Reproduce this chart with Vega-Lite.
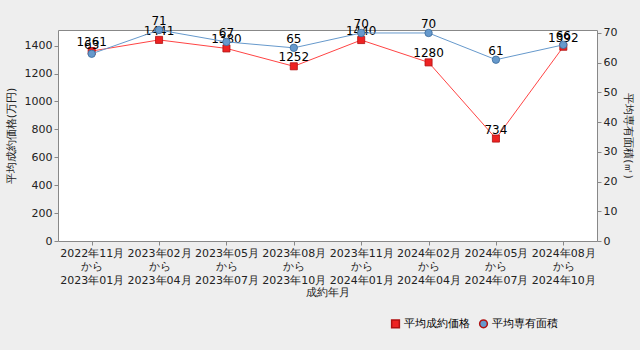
{
  "$schema": "https://vega.github.io/schema/vega-lite/v6.json",
  "autosize": "none",
  "width": 539,
  "height": 211,
  "padding": {"left": 58, "top": 30, "right": 43, "bottom": 109},
  "background": "#eeeeee",
  "config": {
    "font": "DejaVu Sans",
    "view": {"fill": "white", "stroke": "#888888", "strokeWidth": 1},
    "axis": {"labelFont": "DejaVu Sans", "titleFont": "DejaVu Sans", "labelFontSize": 11, "titleFontSize": 11, "labelColor": "#222", "titleColor": "#222", "titleFontWeight": "normal", "grid": false, "domain": false, "tickColor": "#888", "tickSize": 4}
  },
  "data": {"values": [
    {"period": "2022年11月 から 2023年01月", "series": "平均成約価格", "value": 1361},
    {"period": "2023年02月 から 2023年04月", "series": "平均成約価格", "value": 1441},
    {"period": "2023年05月 から 2023年07月", "series": "平均成約価格", "value": 1380},
    {"period": "2023年08月 から 2023年10月", "series": "平均成約価格", "value": 1252},
    {"period": "2023年11月 から 2024年01月", "series": "平均成約価格", "value": 1440},
    {"period": "2024年02月 から 2024年04月", "series": "平均成約価格", "value": 1280},
    {"period": "2024年05月 から 2024年07月", "series": "平均成約価格", "value": 734},
    {"period": "2024年08月 から 2024年10月", "series": "平均成約価格", "value": 1392},
    {"period": "2022年11月 から 2023年01月", "series": "平均専有面積", "value": 63},
    {"period": "2023年02月 から 2023年04月", "series": "平均専有面積", "value": 71},
    {"period": "2023年05月 から 2023年07月", "series": "平均専有面積", "value": 67},
    {"period": "2023年08月 から 2023年10月", "series": "平均専有面積", "value": 65},
    {"period": "2023年11月 から 2024年01月", "series": "平均専有面積", "value": 70},
    {"period": "2024年02月 から 2024年04月", "series": "平均専有面積", "value": 70},
    {"period": "2024年05月 から 2024年07月", "series": "平均専有面積", "value": 61},
    {"period": "2024年08月 から 2024年10月", "series": "平均専有面積", "value": 66}
  ]},
  "encoding": {
    "x": {"field": "period", "type": "ordinal", "sort": null,
      "scale": {"type": "point", "padding": 0.5},
      "axis": {"title": "成約年月", "labelAngle": 0, "labelExpr": "split(datum.value, ' ')", "labelLineHeight": 13.5, "labelPadding": 2, "titlePadding": 1}}
  },
  "layer": [
    {
      "transform": [{"filter": "datum.series == '平均成約価格'"}],
      "encoding": {
        "y": {"field": "value", "type": "quantitative",
          "scale": {"domain": [0, 1512], "nice": false},
          "axis": {"title": "平均成約価格(万円)", "format": "d", "values": [0, 200, 400, 600, 800, 1000, 1200, 1400], "titlePadding": 8}}
      },
      "layer": [
        {"mark": {"type": "line", "color": "#ff4444", "strokeWidth": 1}, "encoding": {}},
        {"mark": {"type": "point", "filled": true, "size": 50, "opacity": 1, "stroke": "#b01010", "strokeWidth": 0.8},
          "encoding": {
            "color": {"field": "series", "type": "nominal", "scale": {"domain": ["平均成約価格", "平均専有面積"], "range": ["#ee2222", "#6699cc"]},
              "legend": {"title": null, "orient": "none", "legendX": 332, "legendY": 288, "direction": "horizontal", "labelFontSize": 11, "labelFont": "DejaVu Sans", "symbolSize": 60, "columnPadding": 6, "labelOffset": 3}},
            "shape": {"field": "series", "type": "nominal", "scale": {"domain": ["平均成約価格", "平均専有面積"], "range": ["square", "circle"]}, "legend": null}
          }},
        {"mark": {"type": "text", "dy": -9, "fontSize": 12, "color": "black"}, "encoding": {"text": {"field": "value"}}}
      ]
    },
    {
      "transform": [{"filter": "datum.series == '平均専有面積'"}],
      "encoding": {
        "y": {"field": "value", "type": "quantitative",
          "scale": {"domain": [0, 71], "nice": false},
          "axis": {"title": "平均専有面積(㎡)", "orient": "right", "values": [0, 10, 20, 30, 40, 50, 60, 70], "titleAngle": 90, "titlePadding": 6}}
      },
      "layer": [
        {"mark": {"type": "line", "color": "#6699cc", "strokeWidth": 1}, "encoding": {}},
        {"mark": {"type": "point", "filled": true, "size": 55, "opacity": 1, "stroke": "#3a6a9a", "strokeWidth": 0.8},
          "encoding": {
            "color": {"field": "series", "type": "nominal", "scale": {"domain": ["平均成約価格", "平均専有面積"], "range": ["#ee2222", "#6699cc"]}},
            "shape": {"field": "series", "type": "nominal", "scale": {"domain": ["平均成約価格", "平均専有面積"], "range": ["square", "circle"]}, "legend": null}
          }},
        {"mark": {"type": "text", "dy": -9, "fontSize": 12, "color": "black"}, "encoding": {"text": {"field": "value"}}}
      ]
    }
  ],
  "resolve": {"scale": {"y": "independent"}}
}
